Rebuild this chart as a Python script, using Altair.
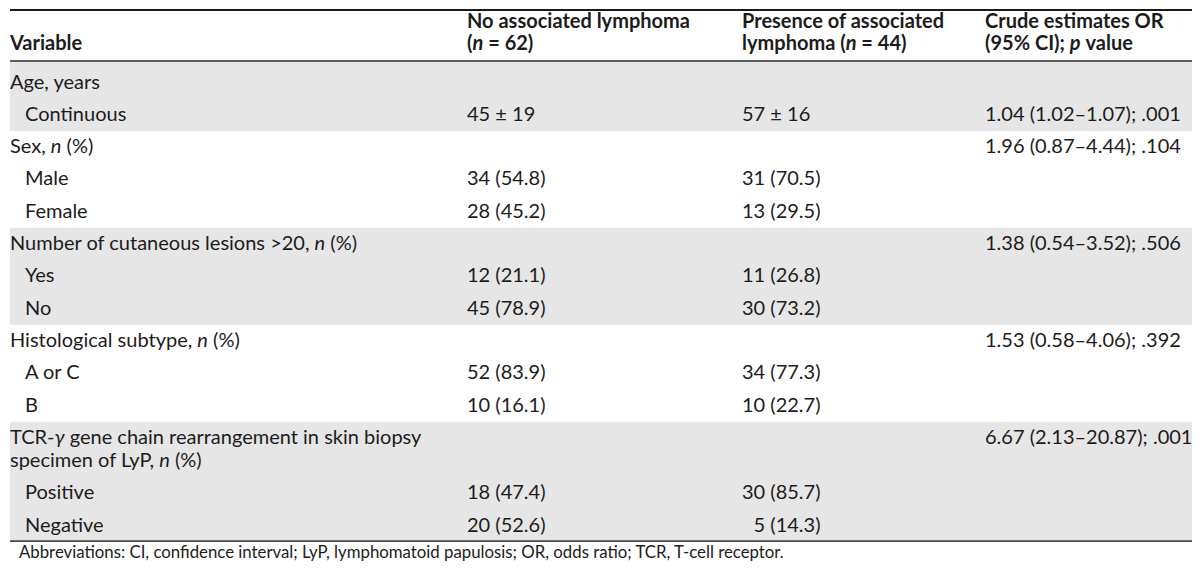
import glob
import os
import struct

import altair as alt
import pandas as pd

# ------------------------------------------------------------------ data
headers = [
    "Variable",
    "No associated lymphoma|(_n_ = 62)",
    "Presence of associated|lymphoma (_n_ = 44)",
    "Crude estimates OR|(95% CI); _p_ value",
]
row_labels = [
    "Age, years", "Continuous",
    "Sex, _n_ (%)", "Male", "Female",
    "Number of cutaneous lesions >20, _n_ (%)", "Yes", "No",
    "Histological subtype, _n_ (%)", "A or C", "B",
    "TCR-_γ_ gene chain rearrangement in skin biopsy|specimen of LyP, _n_ (%)",
    "Positive", "Negative",
]
row_indent = [0, 1, 0, 1, 1, 0, 1, 1, 0, 1, 1, 0, 1, 1]
row_group = [0, 0, 1, 1, 1, 2, 2, 2, 3, 3, 3, 4, 4, 4]
shaded_groups = [0, 2, 4]
no_lymphoma = ["", "45 ± 19", "", "34 (54.8)", "28 (45.2)", "", "12 (21.1)", "45 (78.9)",
               "", "52 (83.9)", "10 (16.1)", "", "18 (47.4)", "20 (52.6)"]
with_lymphoma = ["", "57 ± 16", "", "31 (70.5)", "13 (29.5)", "", "11 (26.8)", "30 (73.2)",
                 "", "34 (77.3)", "10 (22.7)", "", "30 (85.7)", "\u20075 (14.3)"]
crude_or = ["", "1.04 (1.02–1.07); .001", "1.96 (0.87–4.44); .104", "", "",
            "1.38 (0.54–3.52); .506", "", "", "1.53 (0.58–4.06); .392", "", "",
            "6.67 (2.13–20.87); .001", "", ""]
footnote = ("Abbreviations: CI, confidence interval; LyP, lymphomatoid papulosis; "
            "OR, odds ratio; TCR, T-cell receptor.")

# ------------------------------------------------------------------ font metrics (to place mixed-style runs)
FONT = "Lato"
FONT_FILES = {
    (False, False): "Lato-Regular.ttf",
    (False, True): "Lato-Italic.ttf",
    (True, False): "Lato-Bold.ttf",
    (True, True): "Lato-BoldItalic.ttf",
}
FONT_DIRS = ["/usr/share/fonts", "/usr/local/share/fonts",
             os.path.expanduser("~/.fonts"), os.path.expanduser("~/.local/share/fonts")]


def _u16(d, o):
    return struct.unpack_from(">H", d, o)[0]


def _u32(d, o):
    return struct.unpack_from(">I", d, o)[0]


def _coverage(d, off, g):
    fmt = _u16(d, off)
    n = _u16(d, off + 2)
    if fmt == 1:
        for i in range(n):
            if _u16(d, off + 4 + 2 * i) == g:
                return i
    elif fmt == 2:
        for i in range(n):
            s, e, si = struct.unpack_from(">HHH", d, off + 4 + 6 * i)
            if s <= g <= e:
                return si + g - s
    return -1


def _classdef(d, off, g):
    fmt = _u16(d, off)
    if fmt == 1:
        start, n = _u16(d, off + 2), _u16(d, off + 4)
        if start <= g < start + n:
            return _u16(d, off + 6 + 2 * (g - start))
    elif fmt == 2:
        for i in range(_u16(d, off + 2)):
            s, e, c = struct.unpack_from(">HHH", d, off + 4 + 6 * i)
            if s <= g <= e:
                return c
    return 0


def _xadv(d, off, vf):
    if not vf & 4:
        return 0
    return struct.unpack_from(">h", d, off + 2 * bin(vf & 3).count("1"))[0]


def _pair(d, sub, g1, g2):
    fmt = _u16(d, sub)
    vf1, vf2 = _u16(d, sub + 4), _u16(d, sub + 6)
    s1, s2 = 2 * bin(vf1).count("1"), 2 * bin(vf2).count("1")
    ci = _coverage(d, sub + _u16(d, sub + 2), g1)
    if ci < 0:
        return None
    if fmt == 1:
        ps = sub + _u16(d, sub + 10 + 2 * ci)
        rec = 2 + s1 + s2
        for i in range(_u16(d, ps)):
            r = ps + 2 + rec * i
            if _u16(d, r) == g2:
                return _xadv(d, r + 2, vf1)
        return None
    if fmt == 2:
        c1n, c2n = _u16(d, sub + 12), _u16(d, sub + 14)
        c1 = _classdef(d, sub + _u16(d, sub + 8), g1)
        c2 = _classdef(d, sub + _u16(d, sub + 10), g2)
        if c1 >= c1n or c2 >= c2n:
            return None
        return _xadv(d, sub + 16 + (c1 * c2n + c2) * (s1 + s2), vf1)
    return None


class Metrics:
    def __init__(self, path):
        d = open(path, "rb").read()
        self.d = d
        off0 = _u32(d, 12) if d[:4] == b"ttcf" else 0
        tabs = {}
        for i in range(_u16(d, off0 + 4)):
            rec = off0 + 12 + 16 * i
            tabs[d[rec:rec + 4].decode("latin1")] = _u32(d, rec + 8)
        self.upem = _u16(d, tabs["head"] + 18)
        nhm = _u16(d, tabs["hhea"] + 34)
        hm = tabs["hmtx"]
        self.adv = [_u16(d, hm + 4 * i) for i in range(nhm)]
        self.cmap = {}
        cm = tabs["cmap"]
        for i in range(_u16(d, cm + 2)):
            pid = _u16(d, cm + 4 + 8 * i)
            so = cm + _u32(d, cm + 8 + 8 * i)
            fmt = _u16(d, so)
            if fmt == 12:
                for g in range(_u32(d, so + 12)):
                    s, e, gid = struct.unpack_from(">III", d, so + 16 + 12 * g)
                    if s > 0x2FFF:
                        continue
                    for c in range(s, min(e, 0x2FFF) + 1):
                        self.cmap.setdefault(c, gid + c - s)
            elif fmt == 4 and pid in (0, 3):
                segx2 = _u16(d, so + 6)
                ends = so + 14
                starts = ends + segx2 + 2
                deltas = starts + segx2
                ros = deltas + segx2
                for k in range(segx2 // 2):
                    e, s = _u16(d, ends + 2 * k), _u16(d, starts + 2 * k)
                    delta, ro = _u16(d, deltas + 2 * k), _u16(d, ros + 2 * k)
                    if s > 0x2FFF:
                        continue
                    for c in range(s, min(e, 0x2FFF) + 1):
                        if ro == 0:
                            g = (c + delta) & 0xFFFF
                        else:
                            g = _u16(d, ros + 2 * k + ro + 2 * (c - s))
                            if g:
                                g = (g + delta) & 0xFFFF
                        self.cmap.setdefault(c, g)
        # GPOS pair kerning
        self.kern_lookups = []
        try:
            gp = tabs.get("GPOS")
            if gp is not None:
                fl = gp + _u16(d, gp + 6)
                ll = gp + _u16(d, gp + 8)
                wanted = set()
                for i in range(_u16(d, fl)):
                    r = fl + 2 + 6 * i
                    if d[r:r + 4] == b"kern":
                        ft = fl + _u16(d, r + 4)
                        for j in range(_u16(d, ft + 2)):
                            wanted.add(_u16(d, ft + 4 + 2 * j))
                for i in range(_u16(d, ll)):
                    if wanted and i not in wanted:
                        continue
                    lk = ll + _u16(d, ll + 2 + 2 * i)
                    lt = _u16(d, lk)
                    grp = []
                    for j in range(_u16(d, lk + 4)):
                        st = lk + _u16(d, lk + 6 + 2 * j)
                        t = lt
                        if lt == 9:
                            t = _u16(d, st + 2)
                            st = st + _u32(d, st + 4)
                        if t == 2:
                            grp.append(st)
                    if grp:
                        self.kern_lookups.append(grp)
        except Exception:
            self.kern_lookups = []

    def glyph(self, ch):
        return self.cmap.get(ord(ch), 0)

    def kern(self, g1, g2):
        tot = 0
        for grp in self.kern_lookups:
            for st in grp:
                try:
                    v = _pair(self.d, st, g1, g2)
                except Exception:
                    v = None
                if v is not None:
                    tot += v
                    break
        return tot

    def width(self, s):
        gl = [self.glyph(ch) for ch in s]
        tot = 0
        for g in gl:
            tot += self.adv[min(g, len(self.adv) - 1)] if g else self.upem * 0.5
        for a, b in zip(gl, gl[1:]):
            if a and b:
                tot += self.kern(a, b)
        return tot / self.upem


METRICS = {}
for key, fname in FONT_FILES.items():
    try:
        path = None
        for base in FONT_DIRS:
            hits = glob.glob(os.path.join(base, "**", fname), recursive=True)
            if hits:
                path = hits[0]
                break
        if path:
            METRICS[key] = Metrics(path)
    except Exception:
        pass


def em_width(s, bold=False, italic=False):
    m = METRICS.get((bold, italic)) or METRICS.get((bold, False)) or METRICS.get((False, False))
    if m is None:
        return len(s) * (0.53 if bold else 0.5)
    return m.width(s)


# font size chosen so that body text has the reference's width
FS = 20.0
if (False, False) in METRICS:
    FS = max(17.0, min(22.0, round(101.0 / em_width("Continuous") * 2) / 2))
FS_NOTE = round(FS * 0.84, 1)

# ------------------------------------------------------------------ layout
W, H = 1184, 553            # whole chart (the page keeps an 8px margin around it)
Y0, P = 81.5 - 8, 32.3      # chart y of first body row, row pitch
LINE = 0.72                 # line spacing inside a cell, in rows


def u_at(y):                # chart pixel -> row units
    return (y - Y0) / P


U_TOP, U_BOT = u_at(0), u_at(H)
COL_X = [0, 457, 732, 975]
INDENT = 15

segs = []


def add_line(x0, u, marked, bold=False, size=None):
    cur = x0
    for k, part in enumerate(marked.split("_")):
        italic = k % 2 == 1
        # leading blanks (ordinary or figure spaces) become an offset
        lead = ""
        while part and part[0] in " \u2007":
            lead += part[0]
            part = part[1:]
        for ch in lead:
            cur += em_width("0" if ch == "\u2007" else " ", bold, italic) * (size or FS)
        body = part.rstrip(" ")
        if body:
            segs.append(dict(x=cur, u=u, text=body, bold=bold, italic=italic,
                             size=size or FS))
        cur += em_width(part, bold, italic) * (size or FS)


# header
h1, h2 = u_at(20.7 - 8), u_at(43.3 - 8)
for c, htxt in enumerate(headers):
    lines = htxt.split("|")
    if len(lines) == 1:
        add_line(COL_X[c], h2, lines[0], bold=True)
    else:
        add_line(COL_X[c], h1, lines[0], bold=True)
        add_line(COL_X[c], h2, lines[1], bold=True)

# body
row_u = []
u = 0.0
for i, lab in enumerate(row_labels):
    row_u.append(u)
    lines = lab.split("|")
    x0 = COL_X[0] + INDENT * row_indent[i]
    for j, ln in enumerate(lines):
        add_line(x0, u + j * LINE, ln)
    if no_lymphoma[i]:
        add_line(COL_X[1], u, no_lymphoma[i])
    if with_lymphoma[i]:
        add_line(COL_X[2], u, with_lymphoma[i])
    if crude_or[i]:
        add_line(COL_X[3], u, crude_or[i])
    u += (len(lines) - 1) * LINE + 1.0

header_rule_u = u_at(60 - 8)
bottom_rule_u = row_u[-1] + 0.48
add_line(9, u_at(544), footnote, size=FS_NOTE)

seg_df = pd.DataFrame(segs)

bands = []
for g in shaded_groups:
    idx = [i for i, gg in enumerate(row_group) if gg == g]
    top = header_rule_u if idx[0] == 0 else row_u[idx[0]] - 0.5
    bot = bottom_rule_u if idx[-1] == len(row_labels) - 1 else row_u[idx[-1]] + 0.5
    bands.append(dict(x=0, x2=W, u=top, u2=bot))
band_df = pd.DataFrame(bands)

rules_df = pd.DataFrame([
    dict(x=0, x2=W, u=u_at(1), kind="top"),
    dict(x=0, x2=W, u=header_rule_u, kind="mid"),
    dict(x=0, x2=W, u=bottom_rule_u, kind="bottom"),
])

# ------------------------------------------------------------------ chart
xs = alt.Scale(domain=[0, W], range=[0, W], nice=False, zero=False)
ys = alt.Scale(domain=[U_TOP, U_BOT], range=[0, H], nice=False, zero=False)
X = alt.X("x:Q", scale=xs, axis=None)
Y = alt.Y("u:Q", scale=ys, axis=None)

band_layer = alt.Chart(band_df).mark_rect(color="#e6e6e6").encode(
    x=X, x2="x2:Q", y=Y, y2="u2:Q")

rule_layers = []
for kind, sw, col in [("top", 2.2, "#1a1a1a"), ("mid", 1.6, "#2a2a2a"), ("bottom", 1.8, "#4a4a4a")]:
    rule_layers.append(
        alt.Chart(rules_df[rules_df.kind == kind]).mark_rule(strokeWidth=sw, color=col).encode(
            x=X, x2="x2:Q", y=Y))

text_layers = []
for (bold, italic, size), sub in seg_df.groupby(["bold", "italic", "size"]):
    text_layers.append(
        alt.Chart(sub).mark_text(
            font=FONT, fontSize=float(size), fontWeight="bold" if bold else "normal",
            fontStyle="italic" if italic else "normal", align="left",
            baseline="middle", color="#1c1c1c",
        ).encode(x=X, y=Y, text="text:N"))

chart = alt.layer(band_layer, *rule_layers, *text_layers).properties(
    width=W, height=H, padding=0,
    autosize=alt.AutoSizeParams(type="fit", contains="padding"),
    background="white",
).configure_view(stroke=None)

chart.save("out.html", embed_options={"renderer": "svg", "actions": False})
